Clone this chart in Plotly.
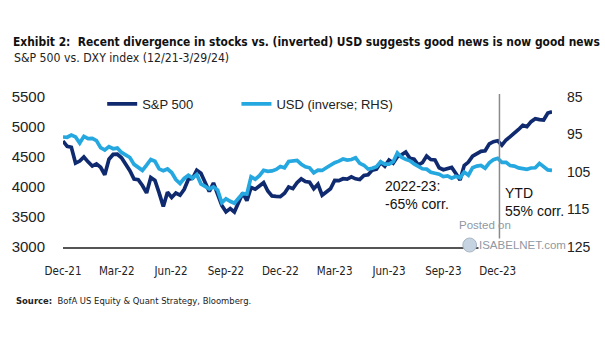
import pandas as pd
import plotly.graph_objects as go

# ---------------- data (weekly) ----------------
dates = pd.date_range("2021-12-31", "2024-03-29", freq="W-FRI")

spx = [
    4766,
    4677, 4663, 4398, 4432,
    4501, 4419, 4349, 4385,
    4329, 4204, 4463, 4543,
    4546, 4488, 4393, 4272, 4132,
    4123, 4024, 3901, 4158,
    4109, 3901, 3675, 3912,
    3825, 3899, 3863, 3962, 4130,
    4145, 4280, 4228, 4058,
    3924, 4067, 3873, 3693, 3586,
    3640, 3583, 3753, 3901,
    3771, 3993, 3965, 4026,
    4072, 3934, 3852, 3845, 3840,
    3895, 3999, 3973, 4071,
    4136, 4090, 4079, 3970,
    4046, 3862, 3917, 3971, 4109,
    4105, 4138, 4133, 4169,
    4136, 4124, 4192, 4205,
    4282, 4299, 4410, 4348, 4450,
    4399, 4505, 4536, 4582,
    4478, 4464, 4370, 4406,
    4516, 4457, 4450, 4320, 4288,
    4309, 4327, 4224, 4117,
    4358, 4415, 4514, 4559,
    4595, 4604, 4719, 4755, 4770,
    4697, 4784, 4840, 4891,
    4959, 5027, 5006, 5089,
    5137, 5124, 5117, 5234, 5254,
]

dxy = [
    95.67,
    95.74, 95.17, 95.64, 97.27,
    95.49, 96.08, 96.04, 96.61,
    98.51, 99.13, 98.23, 98.79,
    98.62, 99.79, 100.50, 101.13, 102.96,
    103.66, 104.56, 103.15, 101.67,
    102.15, 104.15, 104.68, 104.20,
    105.14, 107.01, 108.07, 106.72, 105.85,
    106.62, 105.65, 108.16, 108.82,
    109.53, 108.97, 109.83, 113.19, 112.12,
    112.80, 113.31, 111.99, 110.75,
    110.87, 106.30, 106.92, 106.00,
    104.55, 104.81, 104.72, 104.32, 103.52,
    103.89, 102.20, 102.02, 101.92,
    102.92, 103.63, 103.88, 105.21,
    104.52, 104.58, 103.86, 103.12, 102.51,
    102.10, 101.55, 101.82, 101.66,
    101.21, 102.69, 103.20, 104.21,
    104.02, 103.56, 102.27, 102.89, 102.91,
    102.27, 99.91, 101.07, 101.62,
    102.02, 102.84, 103.39, 104.14,
    104.24, 105.08, 105.32, 105.58, 106.22,
    106.04, 106.66, 106.16, 106.56,
    105.02, 105.87, 103.84, 103.41,
    103.27, 104.00, 102.55, 101.70, 101.33,
    102.41, 102.41, 103.29, 103.44,
    103.92, 104.09, 104.28, 103.94,
    103.86, 102.71, 103.43, 104.43, 104.55,
]

x_tick_dates = ["2021-12-31", "2022-03-31", "2022-06-30", "2022-09-30", "2022-12-30",
                "2023-03-31", "2023-06-30", "2023-09-29", "2023-12-29"]
x_tick_text = ["Dec-21", "Mar-22", "Jun-22", "Sep-22", "Dec-22",
               "Mar-23", "Jun-23", "Sep-23", "Dec-23"]
left_ticks = [3000, 3500, 4000, 4500, 5000, 5500]
right_ticks = [85, 95, 105, 115, 125]
ytd_start = "2024-01-01"

assert len(spx) == len(dates) == len(dxy)

NAVY = "#0f2a6e"
LIGHT = "#25a7e0"
W, H = 605, 341
L, R, T, B = 53, 53, 97, 94
PW, PH = W - L - R, H - T - B


def px(xp):
    return (xp - L) / PW


def py(yp):
    return (H - B - yp) / PH


fig = go.Figure()
fig.add_trace(go.Scatter(x=dates, y=spx, name="S&P 500", mode="lines",
                         line=dict(color=NAVY, width=3.7), yaxis="y", legend="legend"))
fig.add_trace(go.Scatter(x=dates, y=dxy, name="USD (inverse; RHS)", mode="lines",
                         line=dict(color=LIGHT, width=3.7), yaxis="y2", legend="legend2"))

TXT = "Liberation Sans, Arial, sans-serif"
COND = "DejaVu Sans Condensed, DejaVu Sans, sans-serif"

leg_common = dict(orientation="h", xanchor="left", yanchor="middle",
                  font=dict(family=TXT, size=13, color="#222"), itemwidth=30,
                  bgcolor="rgba(0,0,0,0)", borderwidth=0)

fig.update_layout(
    width=W, height=H, autosize=False,
    margin=dict(l=L, r=R, t=T, b=B, pad=0),
    paper_bgcolor="white", plot_bgcolor="white",
    showlegend=True,
    legend=dict(x=px(93), y=py(104), **leg_common),
    legend2=dict(x=px(230), y=py(104), **leg_common),
    xaxis=dict(type="date", range=[dates[0], dates[-1]],
               tickvals=x_tick_dates, ticktext=x_tick_text,
               tickfont=dict(family=COND, size=11.5, color="#222"),
               showgrid=False, zeroline=False, showline=True,
               linecolor="#555", linewidth=2, ticks="", ticklabelstandoff=12),
    yaxis=dict(range=[3000, 5500], tickvals=left_ticks,
               tickfont=dict(family=TXT, size=15, color="#222"),
               showgrid=False, zeroline=False, showline=False, ticks="",
               ticklabelstandoff=17),
    yaxis2=dict(range=[125, 85], tickvals=right_ticks, overlaying="y", side="right",
                tickfont=dict(family=TXT, size=14, color="#222"),
                showgrid=False, zeroline=False, showline=False, ticks="",
                ticklabelstandoff=14),
)

fig.add_shape(type="line", xref="x", yref="paper", x0=ytd_start, x1=ytd_start,
              y0=0, y1=py(94), line=dict(color="#8a8a8a", width=1.5))

ann = [
    dict(text="<b>Exhibit 2:\u00a0 Recent divergence in stocks vs. (inverted) USD suggests good news is now good news</b>",
         x=px(0), y=py(42), font=dict(family=COND, size=11.9, color="#111")),
    dict(text="S&P 500 vs. DXY index (12/21-3/29/24)",
         x=px(1), y=py(58), font=dict(family=COND, size=12.2, color="#222")),
    dict(text="<b>Source:</b>\u00a0 BofA US Equity & Quant Strategy, Bloomberg.",
         x=px(3), y=py(300), font=dict(family=COND, size=9.4, color="#222")),
    dict(text="2022-23:<br>-65% corr.", x=px(380), y=py(195), align="left",
         font=dict(family=TXT, size=14, color="#111")),
    dict(text="YTD<br>55% corr.", x=px(502), y=py(202), align="left",
         font=dict(family=TXT, size=14, color="#111")),
    dict(text="Posted on", x=px(455), y=py(225),
         font=dict(family=TXT, size=11.5, color="#8f98a3")),
    dict(text="ISABELNET.com", x=px(476), y=py(245), bgcolor="white", borderpad=0,
         font=dict(family=TXT, size=11.5, color="#8f98a3")),
]
for a in ann:
    fig.add_annotation(xref="paper", yref="paper", xanchor="left", yanchor="middle",
                       showarrow=False, **a)

fig.add_shape(type="circle", xref="paper", yref="paper",
              x0=px(461), x1=px(475), y0=py(252), y1=py(238),
              fillcolor="#c6d3e0", line=dict(color="#a9b6c4", width=1))

fig.write_html("out.html")
